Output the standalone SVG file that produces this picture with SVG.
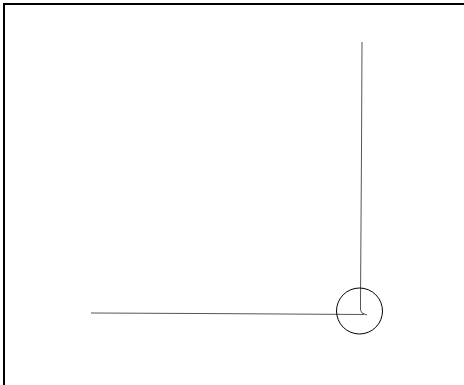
<svg xmlns="http://www.w3.org/2000/svg" width="464" height="385" viewBox="0 0 464 385">
<style>
.frame{stroke:#000;stroke-width:2;fill:none}
.ln{stroke:#555;stroke-width:1;fill:none}
</style>
<rect width="464" height="385" fill="#fff"/>
<path class="frame" d="M4,385 V4 H464"/>
<g id="connectors">
<path class="ln" d="M362,42 L361.5,150 L360.5,300 L360.5,310 L362,313 L367,315"/>
<path class="ln" d="M91,313 L200,313.5 L364,314.5"/>
</g>
<g id="node1">
<circle cx="359.5" cy="311" r="23" stroke="#000" stroke-width="1" fill="none"/>
</g>
</svg>
